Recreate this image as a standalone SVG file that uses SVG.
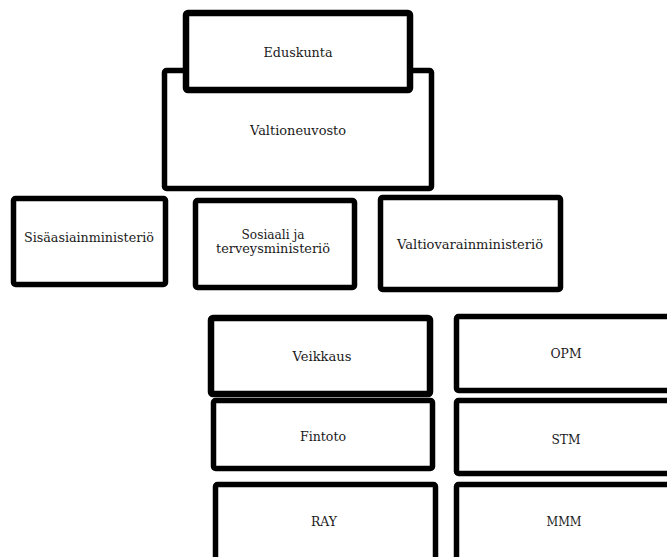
<svg xmlns="http://www.w3.org/2000/svg" width="667" height="557" viewBox="0 0 667 557">
<style>
.box{fill:#fff;stroke:#000;stroke-width:5.5;stroke-linejoin:round}
.thick{stroke-width:6.5}
text{font-family:"DejaVu Serif","Liberation Serif",serif;font-size:12px;fill:#1a1a1a;text-anchor:middle}
</style>
<rect width="667" height="557" fill="#fff"/>
<g id="connectors"></g>
<g id="valtioneuvosto"><rect class="box" x="164.5" y="70.5" width="267" height="118" rx="2"/><text x="298" y="135" textLength="96" lengthAdjust="spacingAndGlyphs">Valtioneuvosto</text></g>
<g id="eduskunta"><rect class="box thick" x="186" y="13" width="224" height="77" rx="2"/><text x="298" y="57" textLength="69" lengthAdjust="spacingAndGlyphs">Eduskunta</text></g>
<g id="sisaasiainministerio"><rect class="box" x="13.5" y="198.5" width="152" height="86" rx="2"/><text x="89" y="242" textLength="130" lengthAdjust="spacingAndGlyphs">Sisäasiainministeriö</text></g>
<g id="sosiaali"><rect class="box" x="195.5" y="200.5" width="159" height="87" rx="2"/><text x="273" y="239" textLength="63" lengthAdjust="spacingAndGlyphs">Sosiaali ja</text><text x="273" y="253" textLength="114" lengthAdjust="spacingAndGlyphs">terveysministeriö</text></g>
<g id="valtiovarainministerio"><rect class="box" x="380.5" y="197.5" width="180" height="92" rx="2"/><text x="470" y="249" textLength="146" lengthAdjust="spacingAndGlyphs">Valtiovarainministeriö</text></g>
<g id="veikkaus"><rect class="box thick" x="211" y="318" width="219" height="76" rx="2"/><text x="322" y="361" textLength="59" lengthAdjust="spacingAndGlyphs">Veikkaus</text></g>
<g id="fintoto"><rect class="box" x="213.5" y="400.5" width="219" height="68" rx="2"/><text x="323" y="440.5" textLength="46" lengthAdjust="spacingAndGlyphs">Fintoto</text></g>
<g id="ray"><rect class="box" x="215.5" y="484.5" width="220" height="100" rx="2"/><text x="324" y="526" textLength="26" lengthAdjust="spacingAndGlyphs">RAY</text></g>
<g id="opm"><rect class="box" x="456.5" y="316.5" width="230" height="74" rx="2"/><text x="566" y="358" textLength="31" lengthAdjust="spacingAndGlyphs">OPM</text></g>
<g id="stm"><rect class="box" x="456.5" y="400.5" width="230" height="73" rx="2"/><text x="566" y="444" textLength="29" lengthAdjust="spacingAndGlyphs">STM</text></g>
<g id="mmm"><rect class="box" x="456.5" y="484.5" width="230" height="100" rx="2"/><text x="564" y="526" textLength="35" lengthAdjust="spacingAndGlyphs">MMM</text></g>
</svg>
